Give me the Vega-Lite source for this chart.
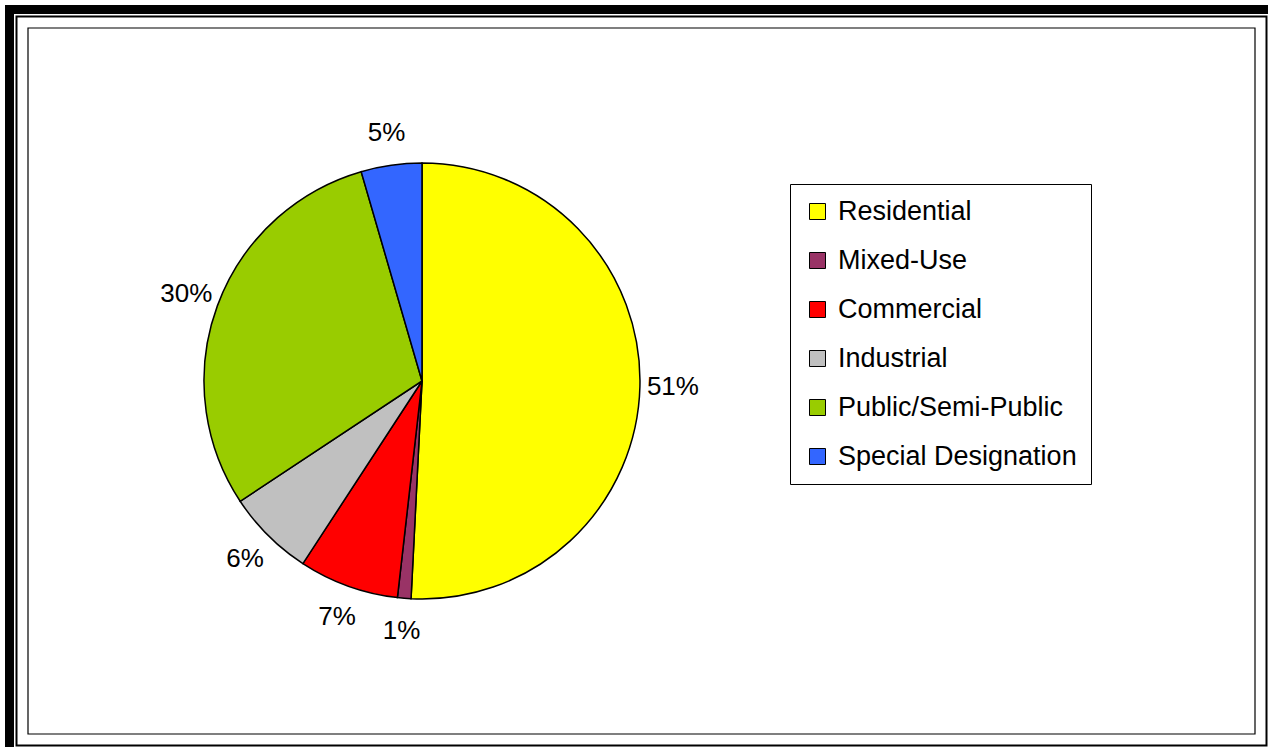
{
  "$schema": "https://vega.github.io/schema/vega-lite/v6.json",
  "width": 1227,
  "height": 706,
  "autosize": {"type": "none"},
  "padding": {"left": 28, "top": 28, "right": 13, "bottom": 13},
  "background": "white",
  "config": {"view": {"stroke": null}, "font": "Liberation Sans"},
  "data": {
    "values": [
      {"category": "Residential", "value": 50.8, "label": "51%", "order": 1},
      {"category": "Mixed-Use", "value": 1.0, "label": "1%", "order": 2},
      {"category": "Commercial", "value": 7.4, "label": "7%", "order": 3},
      {"category": "Industrial", "value": 6.5, "label": "6%", "order": 4},
      {"category": "Public/Semi-Public", "value": 29.8, "label": "30%", "order": 5},
      {"category": "Special Designation", "value": 4.5, "label": "5%", "order": 6}
    ]
  },
  "layer": [
    {"data": {"values": [{}]}, "mark": {"type": "rect", "fill": "white", "fillOpacity": 0, "stroke": "black", "strokeWidth": 46}, "encoding": {}},
    {"data": {"values": [{}]}, "mark": {"type": "rect", "fill": "white", "fillOpacity": 0, "stroke": "white", "strokeWidth": 28}, "encoding": {}},
    {"data": {"values": [{}]}, "mark": {"type": "rect", "fill": "white", "fillOpacity": 0, "stroke": "black", "strokeWidth": 25}, "encoding": {}},
    {"data": {"values": [{}]}, "mark": {"type": "rect", "fill": "white", "fillOpacity": 0, "stroke": "white", "strokeWidth": 21}, "encoding": {}},
    {"data": {"values": [{}]}, "mark": {"type": "rect", "fill": "white", "fillOpacity": 1, "strokeWidth": 0}, "encoding": {}},
    {"data": {"values": [{}]}, "mark": {"type": "rect", "fill": "white", "fillOpacity": 0, "stroke": "black", "strokeWidth": 1.2}, "encoding": {}},
    {
      "mark": {"type": "arc", "outerRadius": 218, "stroke": "black", "strokeWidth": 1.5},
      "encoding": {
        "x": {"value": 394},
        "theta": {"field": "value", "type": "quantitative", "stack": true},
        "order": {"field": "order", "type": "quantitative", "sort": "ascending"},
        "color": {
          "field": "category",
          "type": "nominal",
          "scale": {
            "domain": ["Residential", "Mixed-Use", "Commercial", "Industrial", "Public/Semi-Public", "Special Designation"],
            "range": ["#FFFF00", "#993366", "#FF0000", "#C0C0C0", "#99CC00", "#3366FF"]
          },
          "legend": {
            "title": null,
            "orient": "none",
            "legendX": 762,
            "legendY": 156,
            "padding": 14,
            "strokeColor": "black",
            "fillColor": "white",
            "symbolType": "square",
            "symbolSize": 256,
            "symbolStrokeColor": "black",
            "symbolStrokeWidth": 1,
            "symbolOpacity": 1,
            "labelFont": "Liberation Sans",
            "labelFontSize": 27,
            "labelColor": "black",
            "labelOffset": 7,
            "rowPadding": 21,
            "labelLimit": 400
          }
        }
      }
    },
    {
      "mark": {"type": "text", "radius": 251, "font": "Liberation Sans", "fontSize": 26, "color": "black", "align": "center", "baseline": "middle"},
      "encoding": {
        "x": {"value": 394},
        "theta": {"field": "value", "type": "quantitative", "stack": true},
        "order": {"field": "order", "type": "quantitative", "sort": "ascending"},
        "text": {"field": "label", "type": "nominal"}
      }
    }
  ]
}
